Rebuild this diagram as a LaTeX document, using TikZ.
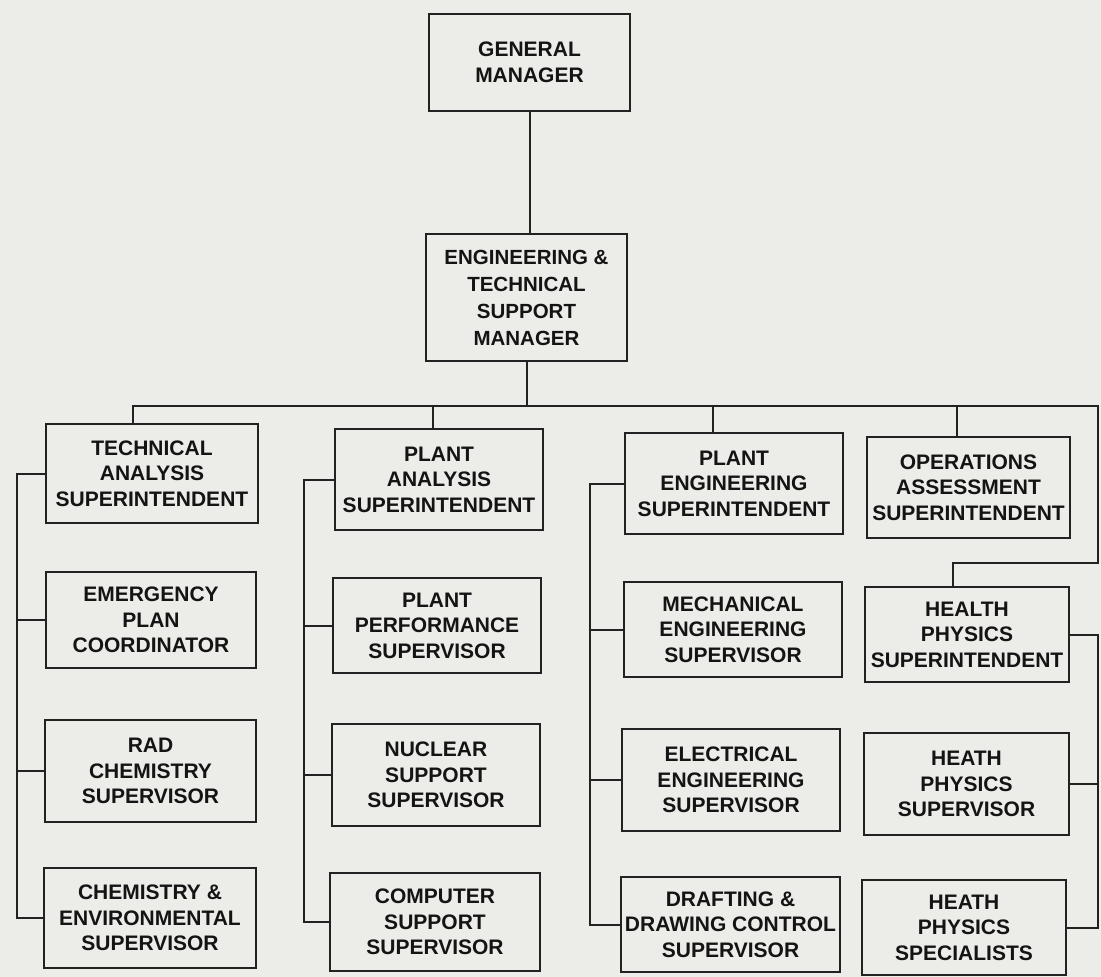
\documentclass[tikz,border=0pt]{standalone}
\usepackage{fontspec}
\setmainfont{Liberation Sans}
\definecolor{bg}{RGB}{236,236,233}
\definecolor{ink}{RGB}{34,34,34}
\definecolor{txt}{RGB}{20,20,20}
\begin{document}
\begin{tikzpicture}[x=1pt,y=-1pt,
  box/.style={draw=ink, line width=2.3pt, align=center, inner sep=0pt,
    font=\fontsize{21}{25.5}\selectfont\bfseries, text=txt},
  conn/.style={draw=ink, line width=2pt}]
\fill[bg] (0,0) rectangle (1101,977);
\useasboundingbox (0,0) rectangle (1101,977);

% top
\node[box, minimum width=201pt, minimum height=97pt] (gm) at (529.5,62.5) {GENERAL\\MANAGER};
\node[box, minimum width=201pt, minimum height=127pt, font=\fontsize{20.5}{27}\selectfont\bfseries] (ets) at (526.5,297.5) {ENGINEERING \&\\TECHNICAL\\SUPPORT\\MANAGER};

% column 1
\node[box, minimum width=212pt, minimum height=99pt] (ta) at (152,473.5) {TECHNICAL\\ANALYSIS\\SUPERINTENDENT};
\node[box, minimum width=210pt, minimum height=96pt] (epc) at (151,620) {EMERGENCY\\PLAN\\COORDINATOR};
\node[box, minimum width=211pt, minimum height=102pt] (rad) at (150.5,771) {RAD\\CHEMISTRY\\SUPERVISOR};
\node[box, minimum width=212pt, minimum height=100pt] (chem) at (150,918) {CHEMISTRY \&\\ENVIRONMENTAL\\SUPERVISOR};

% column 2
\node[box, minimum width=208pt, minimum height=101pt] (pa) at (439,479.5) {PLANT\\ANALYSIS\\SUPERINTENDENT};
\node[box, minimum width=208pt, minimum height=95pt] (pps) at (437,625.5) {PLANT\\PERFORMANCE\\SUPERVISOR};
\node[box, minimum width=208pt, minimum height=102pt] (nss) at (436,775) {NUCLEAR\\SUPPORT\\SUPERVISOR};
\node[box, minimum width=210pt, minimum height=98pt] (css) at (435,922) {COMPUTER\\SUPPORT\\SUPERVISOR};

% column 3
\node[box, minimum width=218pt, minimum height=101pt] (pe) at (734,483.5) {PLANT\\ENGINEERING\\SUPERINTENDENT};
\node[box, minimum width=218pt, minimum height=95pt] (mes) at (733,629.5) {MECHANICAL\\ENGINEERING\\SUPERVISOR};
\node[box, minimum width=218pt, minimum height=102pt] (ees) at (731,780) {ELECTRICAL\\ENGINEERING\\SUPERVISOR};
\node[box, minimum width=219pt, minimum height=95pt] (ddc) at (730.5,924.5) {DRAFTING \&\\DRAWING CONTROL\\SUPERVISOR};

% column 4
\node[box, minimum width=203pt, minimum height=101pt] (oa) at (968.5,487.5) {OPERATIONS\\ASSESSMENT\\SUPERINTENDENT};
\node[box, minimum width=204pt, minimum height=95pt] (hps) at (967,634.5) {HEALTH\\PHYSICS\\SUPERINTENDENT};
\node[box, minimum width=205pt, minimum height=102pt] (hpv) at (966.5,784) {HEATH\\PHYSICS\\SUPERVISOR};
\node[box, minimum width=204pt, minimum height=95pt] (hpx) at (964,927.5) {HEATH\\PHYSICS\\SPECIALISTS};

% connectors
\coordinate (busL) at (133,406);
\coordinate (busR) at (1098,406);
\coordinate (dpa) at (433,406);
\coordinate (dpe) at (713,406);
\coordinate (doa) at (957,406);
\coordinate (hpj) at (953,563);

\draw[conn] (gm.south) -- (gm.south |- ets.north);
\draw[conn] (ets.south) -- (ets.south |- busL);
\draw[conn] (busL |- ta.north) -- (busL) -- (busR) -- (busR |- hpj) -- (hpj) -- (hpj |- hps.north);
\draw[conn] (dpa) -- (dpa |- pa.north);
\draw[conn] (dpe) -- (dpe |- pe.north);
\draw[conn] (doa) -- (doa |- oa.north);

\coordinate (s1) at (17,0);
\draw[conn] (ta.west) -- (ta.west -| s1) -- (chem.west -| s1) -- (chem.west);
\draw[conn] (epc.west) -- (epc.west -| s1);
\draw[conn] (rad.west) -- (rad.west -| s1);

\coordinate (s2) at (304,0);
\draw[conn] (pa.west) -- (pa.west -| s2) -- (css.west -| s2) -- (css.west);
\draw[conn] (pps.west) -- (pps.west -| s2);
\draw[conn] (nss.west) -- (nss.west -| s2);

\coordinate (s3) at (590,0);
\draw[conn] (pe.west) -- (pe.west -| s3) -- (ddc.west -| s3) -- (ddc.west);
\draw[conn] (mes.west) -- (mes.west -| s3);
\draw[conn] (ees.west) -- (ees.west -| s3);

\coordinate (s4) at (1098,0);
\draw[conn] (hps.east) -- (hps.east -| s4) -- (hpx.east -| s4) -- (hpx.east);
\draw[conn] (hpv.east) -- (hpv.east -| s4);
\end{tikzpicture}
\end{document}
